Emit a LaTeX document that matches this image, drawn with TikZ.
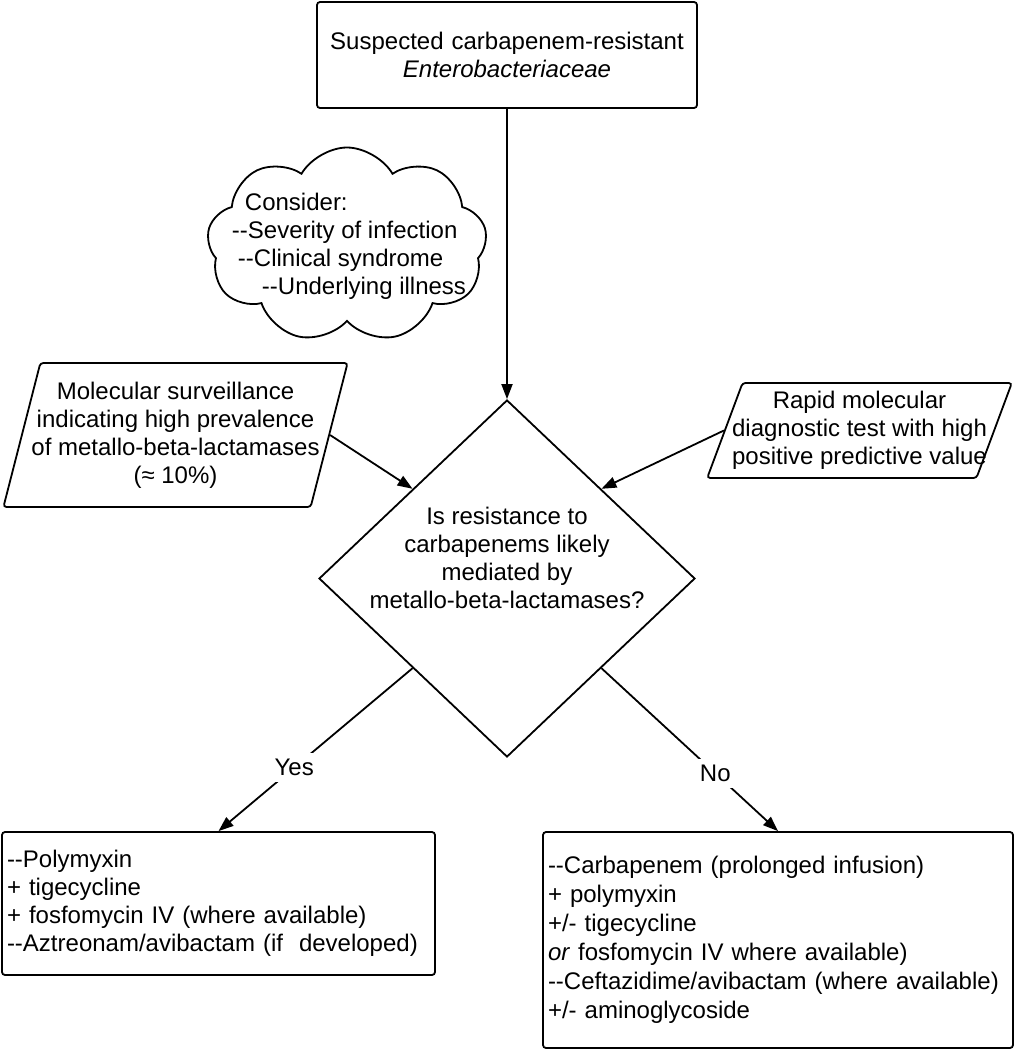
\documentclass[tikz,border=0pt]{standalone}
\usepackage{fontspec}
\setmainfont{Liberation Sans}[Ligatures=TeXOff]
\usetikzlibrary{arrows.meta,shapes.geometric,shapes.symbols}

\begin{document}
\begin{tikzpicture}[x=0.5pt,y=-0.5pt,>={Triangle[length=7.5pt,width=5.5pt]},line width=0.9pt,
	every node/.style={font=\fontsize{12}{14}\selectfont},
	box/.style={draw,rounded corners=1.5pt,inner xsep=2.5pt},
	para/.style={trapezium,draw,rounded corners=1.5pt,trapezium left angle=71,trapezium right angle=109,trapezium stretches=true,align=center,inner ysep=0pt,inner xsep=-5pt},
	answer/.style={fill=white,inner sep=3pt}]
	\useasboundingbox (0,0) rectangle (1014,1050);

	\node[box,align=center,text width=185pt,minimum height=53pt] (susp) at (507,55) {Suspected carbapenem-resistant\\\textit{Enterobacteriaceae}};

	\node[cloud,draw,cloud puffs=9,cloud puff arc=120,cloud ignores aspect,minimum width=140pt,minimum height=97.5pt,inner sep=0pt] (puff) at (347,245) {};
	\node[align=left] (consider) at (349,246) {\hspace{6.5pt}Consider:\\--Severity of infection\\\hspace{3pt}--Clinical syndrome\\\hspace{15pt}--Underlying illness};

	\node[diamond,draw,minimum width=188pt,minimum height=178.5pt,inner sep=0pt] (dia) at (507,578.5) {};
	\node[align=center] (quest) at (507,558) {Is resistance to\\carbapenems likely\\mediated by\\metallo-beta-lactamases?};

	\node[para,minimum width=172.5pt,minimum height=72pt] (survey) at (175.5,435) {Molecular surveillance\\indicating high prevalence\\of metallo-beta-lactamases\\(≈ 10\%)};
	\node[para,trapezium left angle=67.5,trapezium right angle=112.5,inner xsep=-10pt,minimum width=152.5pt,minimum height=47.5pt] (rapid) at (859.5,430.5) {Rapid molecular\\diagnostic test with high\\positive predictive value};

	\node[box,align=left,text width=211.5pt,minimum height=71.5pt] (yesbox) at (218.5,903.5) {--Polymyxin\\+ tigecycline\\+ fosfomycin IV (where available)\\--Aztreonam/avibactam (if\ \ developed)};
	\node[box,align=left,text width=230pt,minimum height=108pt,font=\fontsize{12}{14.5}\selectfont] (nobox) at (778,940) {--Carbapenem (prolonged infusion)\\+ polymyxin\\+/- tigecycline\\\textit{or} fosfomycin IV where available)\\--Ceftazidime/avibactam (where available)\\+/- aminoglycoside};

	\draw[->] (susp) -- (dia.north);
	\draw[->] (survey.east) -- (dia.north west);
	\draw[->] (rapid.west) -- (dia.north east);
	\draw[->] (dia.south west) -- node[answer,pos=0.61] {Yes} (yesbox.north);
	\draw[->] (dia.south east) -- node[answer,pos=0.645] {No} (nobox.north);
\end{tikzpicture}
\end{document}
